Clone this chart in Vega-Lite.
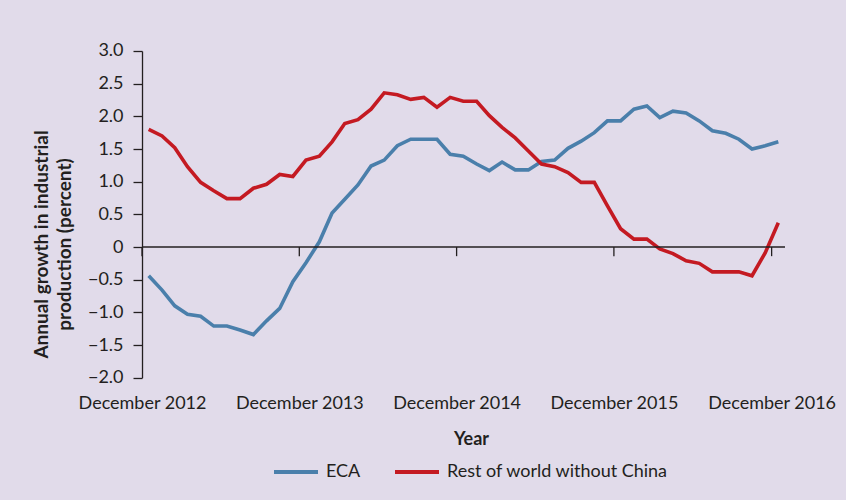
{
  "$schema": "https://vega.github.io/schema/vega-lite/v6.json",
  "width": 643,
  "height": 326.7,
  "autosize": {"type": "none"},
  "padding": {"left": 142, "top": 51, "right": 61, "bottom": 122},
  "background": "#E1DBEA",
  "config": {
    "view": {"stroke": null},
    "font": "Lato",
    "axis": {"labelFont": "Lato", "titleFont": "Lato", "labelColor": "#231F20", "titleColor": "#231F20"},
    "legend": {"labelFont": "Lato", "labelColor": "#231F20"}
  },
  "datasets": {
    "series": [
      {"date": "2012-12", "ECA": -0.44, "Rest of world without China": 1.80},
      {"date": "2013-01", "ECA": -0.66, "Rest of world without China": 1.70},
      {"date": "2013-02", "ECA": -0.90, "Rest of world without China": 1.52},
      {"date": "2013-03", "ECA": -1.03, "Rest of world without China": 1.23},
      {"date": "2013-04", "ECA": -1.06, "Rest of world without China": 0.99},
      {"date": "2013-05", "ECA": -1.21, "Rest of world without China": 0.86},
      {"date": "2013-06", "ECA": -1.21, "Rest of world without China": 0.74},
      {"date": "2013-07", "ECA": -1.27, "Rest of world without China": 0.74},
      {"date": "2013-08", "ECA": -1.34, "Rest of world without China": 0.90},
      {"date": "2013-09", "ECA": -1.13, "Rest of world without China": 0.96},
      {"date": "2013-10", "ECA": -0.94, "Rest of world without China": 1.11},
      {"date": "2013-11", "ECA": -0.53, "Rest of world without China": 1.08},
      {"date": "2013-12", "ECA": -0.24, "Rest of world without China": 1.33},
      {"date": "2014-01", "ECA": 0.08, "Rest of world without China": 1.39},
      {"date": "2014-02", "ECA": 0.52, "Rest of world without China": 1.61},
      {"date": "2014-03", "ECA": 0.73, "Rest of world without China": 1.89},
      {"date": "2014-04", "ECA": 0.95, "Rest of world without China": 1.95},
      {"date": "2014-05", "ECA": 1.24, "Rest of world without China": 2.11},
      {"date": "2014-06", "ECA": 1.33, "Rest of world without China": 2.36},
      {"date": "2014-07", "ECA": 1.55, "Rest of world without China": 2.33},
      {"date": "2014-08", "ECA": 1.65, "Rest of world without China": 2.26},
      {"date": "2014-09", "ECA": 1.65, "Rest of world without China": 2.29},
      {"date": "2014-10", "ECA": 1.65, "Rest of world without China": 2.14},
      {"date": "2014-11", "ECA": 1.42, "Rest of world without China": 2.29},
      {"date": "2014-12", "ECA": 1.39, "Rest of world without China": 2.23},
      {"date": "2015-01", "ECA": 1.27, "Rest of world without China": 2.23},
      {"date": "2015-02", "ECA": 1.17, "Rest of world without China": 2.01},
      {"date": "2015-03", "ECA": 1.30, "Rest of world without China": 1.83},
      {"date": "2015-04", "ECA": 1.18, "Rest of world without China": 1.67},
      {"date": "2015-05", "ECA": 1.18, "Rest of world without China": 1.47},
      {"date": "2015-06", "ECA": 1.31, "Rest of world without China": 1.27},
      {"date": "2015-07", "ECA": 1.33, "Rest of world without China": 1.23},
      {"date": "2015-08", "ECA": 1.51, "Rest of world without China": 1.14},
      {"date": "2015-09", "ECA": 1.62, "Rest of world without China": 0.99},
      {"date": "2015-10", "ECA": 1.75, "Rest of world without China": 0.99},
      {"date": "2015-11", "ECA": 1.93, "Rest of world without China": 0.63},
      {"date": "2015-12", "ECA": 1.93, "Rest of world without China": 0.28},
      {"date": "2016-01", "ECA": 2.11, "Rest of world without China": 0.12},
      {"date": "2016-02", "ECA": 2.16, "Rest of world without China": 0.12},
      {"date": "2016-03", "ECA": 1.98, "Rest of world without China": -0.03},
      {"date": "2016-04", "ECA": 2.08, "Rest of world without China": -0.10},
      {"date": "2016-05", "ECA": 2.05, "Rest of world without China": -0.21},
      {"date": "2016-06", "ECA": 1.93, "Rest of world without China": -0.25},
      {"date": "2016-07", "ECA": 1.78, "Rest of world without China": -0.38},
      {"date": "2016-08", "ECA": 1.74, "Rest of world without China": -0.38},
      {"date": "2016-09", "ECA": 1.65, "Rest of world without China": -0.38},
      {"date": "2016-10", "ECA": 1.50, "Rest of world without China": -0.44},
      {"date": "2016-11", "ECA": 1.55, "Rest of world without China": -0.09},
      {"date": "2016-12", "ECA": 1.61, "Rest of world without China": 0.37}
    ],
    "ticks": [
      {"date": "2012-12"},
      {"date": "2013-12"},
      {"date": "2014-12"},
      {"date": "2015-12"},
      {"date": "2016-12"}
    ]
  },
  "layer": [
    {
      "data": {"name": "series"},
      "transform": [{"fold": ["ECA", "Rest of world without China"], "as": ["series", "value"]}],
      "mark": {"type": "line", "strokeWidth": 3.6},
      "encoding": {
        "x": {
          "field": "date",
          "type": "temporal",
          "timeUnit": "utcyearmonth",
          "bandPosition": 0.5,
          "scale": {
            "domain": [
              {"year": 2012, "month": 12, "date": 1, "utc": true},
              {"year": 2017, "month": 1, "date": 1, "utc": true}
            ],
            "nice": false
          },
          "axis": {
            "values": [
              {"year": 2012, "month": 12, "date": 1, "utc": true},
              {"year": 2013, "month": 12, "date": 1, "utc": true},
              {"year": 2014, "month": 12, "date": 1, "utc": true},
              {"year": 2015, "month": 12, "date": 1, "utc": true},
              {"year": 2016, "month": 12, "date": 1, "utc": true}
            ],
            "labelExpr": "utcFormat(datum.value, '%B %Y')",
            "domain": false,
            "ticks": false,
            "grid": false,
            "labelPadding": 17,
            "labelFontSize": 18,
            "labelFlush": false,
            "labelOverlap": false,
            "labelBound": false,
            "title": "Year",
            "titleFontSize": 18,
            "titleFontWeight": "bold",
            "titleX": 329,
            "titleY": 67,
            "titleAlign": "center",
            "titleBaseline": "alphabetic"
          }
        },
        "y": {
          "field": "value",
          "type": "quantitative",
          "scale": {"domain": [-2, 3], "nice": false, "zero": false},
          "axis": {
            "values": [-2, -1.5, -1, -0.5, 0, 0.5, 1, 1.5, 2, 2.5, 3],
            "labelExpr": "datum.value === 0 ? '0' : format(datum.value, '.1f')",
            "labelOverlap": false,
            "labelBound": false,
            "grid": false,
            "domainColor": "#231F20",
            "domainWidth": 1.3,
            "tickColor": "#231F20",
            "tickWidth": 1.3,
            "tickSize": 9,
            "labelPadding": 10,
            "labelFontSize": 18,
            "title": ["Annual growth in industrial", "production (percent)"],
            "titleFontSize": 19,
            "titleFontWeight": "bold",
            "titleLineHeight": 24,
            "titleAngle": -90,
            "titleX": -110,
            "titleY": 193,
            "titleAlign": "center",
            "titleBaseline": "top"
          }
        },
        "color": {
          "field": "series",
          "type": "nominal",
          "scale": {"domain": ["ECA", "Rest of world without China"], "range": ["#4A7FAB", "#C41A22"]},
          "legend": {
            "orient": "none",
            "legendX": 130,
            "legendY": 397,
            "direction": "horizontal",
            "title": null,
            "padding": 0,
            "symbolType": "stroke",
            "symbolSize": 1936,
            "symbolStrokeWidth": 4,
            "labelFontSize": 18,
            "labelLimit": 400,
            "labelOffset": 6,
            "columnPadding": 26
          }
        }
      }
    },
    {
      "data": {"values": [{}]},
      "mark": {"type": "rule", "color": "#231F20", "strokeWidth": 1.3},
      "encoding": {
        "y": {
          "datum": 0,
          "type": "quantitative",
          "axis": {
            "values": [-2, -1.5, -1, -0.5, 0, 0.5, 1, 1.5, 2, 2.5, 3],
            "labelExpr": "datum.value === 0 ? '0' : format(datum.value, '.1f')",
            "labelOverlap": false,
            "labelBound": false,
            "grid": false,
            "domainColor": "#231F20",
            "domainWidth": 1.3,
            "tickColor": "#231F20",
            "tickWidth": 1.3,
            "tickSize": 9,
            "labelPadding": 10,
            "labelFontSize": 18,
            "title": ["Annual growth in industrial", "production (percent)"],
            "titleFontSize": 19,
            "titleFontWeight": "bold",
            "titleLineHeight": 24,
            "titleAngle": -90,
            "titleX": -110,
            "titleY": 193,
            "titleAlign": "center",
            "titleBaseline": "top"
          }
        }
      }
    },
    {
      "data": {"name": "ticks"},
      "mark": {"type": "rule", "color": "#231F20", "strokeWidth": 1.3},
      "encoding": {
        "x": {"field": "date", "type": "temporal", "timeUnit": "utcyearmonth"},
        "y": {
          "datum": 0,
          "type": "quantitative",
          "axis": {
            "values": [-2, -1.5, -1, -0.5, 0, 0.5, 1, 1.5, 2, 2.5, 3],
            "labelExpr": "datum.value === 0 ? '0' : format(datum.value, '.1f')",
            "labelOverlap": false,
            "labelBound": false,
            "grid": false,
            "domainColor": "#231F20",
            "domainWidth": 1.3,
            "tickColor": "#231F20",
            "tickWidth": 1.3,
            "tickSize": 9,
            "labelPadding": 10,
            "labelFontSize": 18,
            "title": ["Annual growth in industrial", "production (percent)"],
            "titleFontSize": 19,
            "titleFontWeight": "bold",
            "titleLineHeight": 24,
            "titleAngle": -90,
            "titleX": -110,
            "titleY": 193,
            "titleAlign": "center",
            "titleBaseline": "top"
          }
        },
        "y2": {"datum": -0.14}
      }
    }
  ]
}
